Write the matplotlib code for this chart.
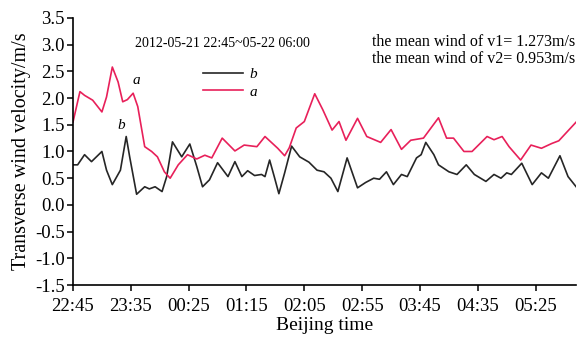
import matplotlib
matplotlib.use("Agg")
import matplotlib.pyplot as plt

# minutes after 22:45 and transverse wind (m/s)
t_a = [0, 6, 10, 17, 25, 29, 34, 39, 43, 47, 52, 56, 62, 68, 73, 79, 84, 91, 99, 107,
       114, 120, 129, 140, 148, 159, 166, 172, 177, 183, 187, 193, 200, 209, 216, 224,
       230, 236, 246, 254, 266, 275, 284, 292, 303, 316, 323, 329, 338, 345, 358, 364,
       371, 377, 387, 396, 405, 414, 420, 435]
v_a = [1.55, 2.12, 2.05, 1.96, 1.74, 2.02, 2.58, 2.30, 1.93, 1.97, 2.09, 1.84, 1.09, 1.00,
       0.90, 0.62, 0.50, 0.75, 0.94, 0.86, 0.93, 0.88, 1.25, 1.01, 1.12, 1.09, 1.28, 1.16,
       1.06, 0.92, 1.07, 1.44, 1.56, 2.08, 1.78, 1.40, 1.56, 1.21, 1.62, 1.28, 1.17, 1.41,
       1.04, 1.21, 1.25, 1.63, 1.25, 1.25, 1.00, 1.00, 1.28, 1.22, 1.28, 1.09, 0.84, 1.12,
       1.06, 1.15, 1.20, 1.55]

t_b = [0, 4, 10, 16, 25, 29, 34, 41, 46, 49, 55, 62, 66, 71, 77, 81, 86, 94, 101, 107,
       112, 118, 125, 134, 140, 146, 151, 157, 163, 166, 170, 174, 178, 183, 189, 196,
       204, 211, 217, 223, 229, 237, 246, 253, 260, 265, 271, 277, 284, 289, 297, 301,
       305, 312, 316, 325, 332, 340, 347, 357, 364, 370, 375, 379, 388, 397, 405, 411,
       421, 428, 435]
v_b = [0.75, 0.75, 0.94, 0.81, 1.00, 0.65, 0.38, 0.65, 1.28, 0.90, 0.20, 0.34, 0.30, 0.34,
       0.25, 0.53, 1.18, 0.90, 1.14, 0.72, 0.34, 0.47, 0.79, 0.53, 0.81, 0.53, 0.64, 0.55,
       0.57, 0.53, 0.84, 0.53, 0.21, 0.60, 1.10, 0.90, 0.80, 0.65, 0.62, 0.50, 0.25, 0.88,
       0.32, 0.42, 0.50, 0.48, 0.62, 0.38, 0.57, 0.53, 0.88, 0.94, 1.17, 0.94, 0.75, 0.62,
       0.57, 0.75, 0.57, 0.44, 0.57, 0.50, 0.60, 0.57, 0.78, 0.38, 0.60, 0.50, 0.92, 0.53,
       0.34]

tick_pos = [0, 50, 100, 150, 200, 250, 300, 350, 400]
tick_labels = ['22:45', '23:35', '00:25', '01:15', '02:05', '02:55', '03:45', '04:35', '05:25']
y_ticks = [-1.5, -1.0, -0.5, 0.0, 0.5, 1.0, 1.5, 2.0, 2.5, 3.0, 3.5]

plt.rcParams['font.family'] = ['Liberation Serif', 'DejaVu Serif']

fig = plt.figure(figsize=(5.77, 3.37), dpi=100)
ax = fig.add_axes([0.1265, 0.154, 0.872, 0.793])

red = '#e8205a'
ax.plot(t_b, v_b, color='#262626', lw=1.2, solid_joinstyle='round', label='b')
ax.plot(t_a, v_a, color=red, lw=1.2, solid_joinstyle='round', label='a')

ax.set_xlim(0, 435)
ax.set_ylim(-1.5, 3.5)
ax.set_xticks(tick_pos)
ax.set_xticklabels(tick_labels)
ax.set_yticks(y_ticks)
ax.set_yticklabels(['%.1f' % v for v in y_ticks])
ax.tick_params(labelsize=13.5, direction='out', length=4, width=1.1)
ax.tick_params(axis='x', pad=5)
ax.tick_params(axis='y', pad=2)

for s in ['top', 'right']:
    ax.spines[s].set_visible(False)
for s in ['left', 'bottom']:
    ax.spines[s].set_linewidth(1.2)

ax.set_ylabel('Transverse wind velocity/m/s', fontsize=14.5, labelpad=3)
ax.set_xlabel('Beijing time', fontsize=14, labelpad=2)

ax.text(0.123, 0.905, '2012-05-21 22:45~05-22 06:00', transform=ax.transAxes,
        fontsize=10, ha='left', va='center')
ax.text(0.999, 0.91, 'the mean wind of v1= 1.273m/s', transform=ax.transAxes,
        fontsize=11.5, ha='right', va='center')
ax.text(0.999, 0.846, 'the mean wind of v2= 0.953m/s', transform=ax.transAxes,
        fontsize=11.5, ha='right', va='center')

ax.text(55, 2.27, 'a', fontsize=11, style='italic', ha='center')
ax.text(42, 1.42, 'b', fontsize=11, style='italic', ha='center')

leg = ax.legend(loc='upper left', bbox_to_anchor=(0.232, 0.866), frameon=False,
                prop={'style': 'italic', 'size': 11}, handlelength=2.6,
                labelspacing=0.25, handletextpad=0.4)

fig.savefig('out.png', dpi=100)
